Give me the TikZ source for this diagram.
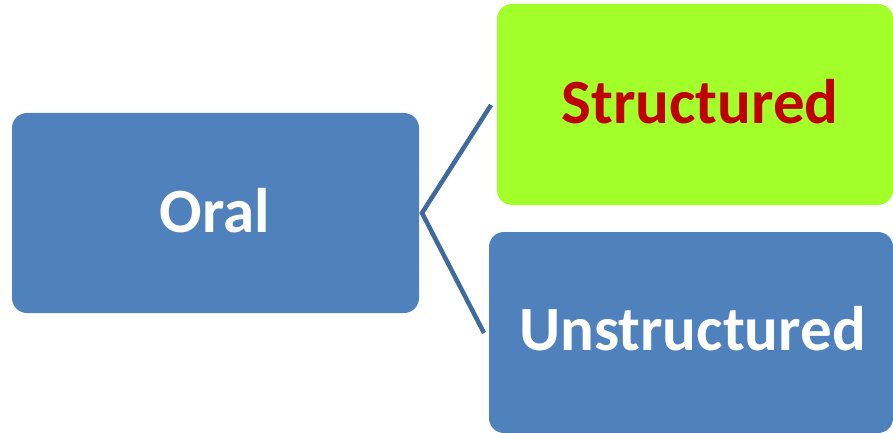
\documentclass[tikz,border=0pt]{standalone}
\usepackage{fontspec}
\setmainfont{Carlito}
\definecolor{boxblue}{HTML}{4F81BD}
\definecolor{boxgreen}{HTML}{A2FF2A}
\definecolor{linkblue}{HTML}{3F6A9C}
\definecolor{textred}{HTML}{C00000}
\begin{document}
\begin{tikzpicture}[x=1pt,y=-1pt,
  card/.style={rounded corners=15pt},
  label/.style={font=\fontsize{63}{70}\selectfont\bfseries, anchor=base, inner sep=0pt},
  link/.style={draw=linkblue, line width=4.5pt}]
\useasboundingbox (0,0) rectangle (893,433);
% three rounded cards
\fill[card, boxblue] (12,113) rectangle (419,313);
\fill[card, boxgreen] (497,4) rectangle (893,205);
\fill[card, boxblue] (489,232) rectangle (893,433);
% card captions
\node[label, white] (oral) at (215,232) {Oral};
\node[label, textred] (structured) at (700,123) {Structured};
\node[label, white] (unstructured) at (692.5,350) {Unstructured};
% branching connector
\coordinate (hub) at (422,213);
\coordinate (top) at (491,105);
\coordinate (bot) at (484,333);
\draw[link, line join=miter] (top) -- (hub) -- (bot);
\end{tikzpicture}
\end{document}
